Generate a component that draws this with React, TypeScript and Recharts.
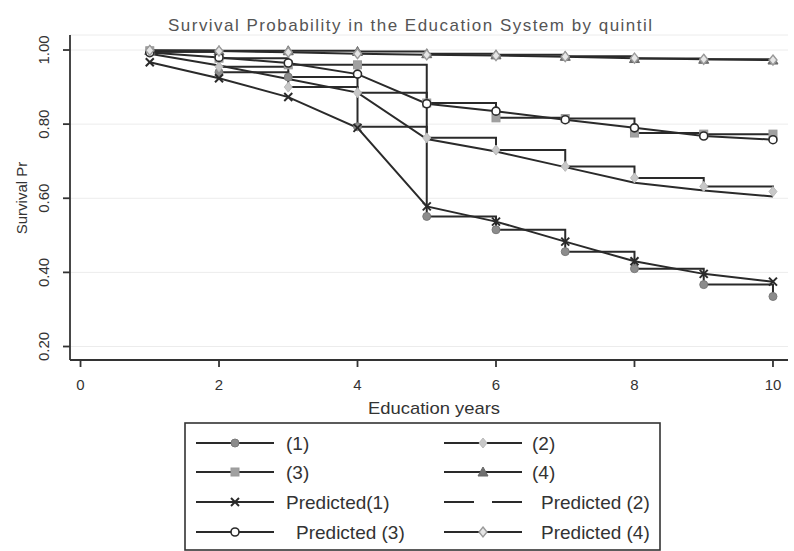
import React from 'react';
import { LineChart, Line, XAxis, YAxis, CartesianGrid } from 'recharts';

// ---------- data ----------
const years = [1, 2, 3, 4, 5, 6, 7, 8, 9, 10];
const obs1 = [0.995, 0.94, 0.927, 0.793, 0.551, 0.515, 0.456, 0.41, 0.367, 0.335];
const obs2 = [0.995, 0.955, 0.9, 0.885, 0.763, 0.73, 0.686, 0.655, 0.632, 0.618];
const obs3 = [0.998, 0.978, 0.96, 0.96, 0.857, 0.817, 0.815, 0.776, 0.773, 0.773];
const obs4 = [0.999, 0.998, 0.998, 0.996, 0.99, 0.987, 0.983, 0.977, 0.975, 0.973];
const pred1 = [0.967, 0.924, 0.873, 0.79, 0.578, 0.537, 0.483, 0.43, 0.396, 0.375];
const pred2 = [0.99, 0.958, 0.922, 0.885, 0.76, 0.726, 0.684, 0.642, 0.621, 0.605];
const pred3 = [0.993, 0.98, 0.965, 0.935, 0.855, 0.835, 0.812, 0.79, 0.768, 0.758];
const pred4 = [0.999, 0.997, 0.994, 0.99, 0.987, 0.985, 0.982, 0.978, 0.975, 0.973];

const xTicks = [0, 2, 4, 6, 8, 10];
const yTicks = [0.2, 0.4, 0.6, 0.8, 1.0];

const titleText = 'Survival Probability in the Education System by quintil';
const xTitle = 'Education years';
const yTitle = 'Survival Pr';

const data = years.map((x, i) => ({
  x,
  obs1: obs1[i],
  obs2: obs2[i],
  obs3: obs3[i],
  obs4: obs4[i],
  pred1: pred1[i],
  pred2: pred2[i],
  pred3: pred3[i],
  pred4: pred4[i],
}));

// ---------- style ----------
const FONT = '"Liberation Sans", Arial, Helvetica, sans-serif';
const LINE = '#2a2a2a';
const TEXT = '#333333';

type Shape = 'circle' | 'diamond' | 'square' | 'triangle' | 'x' | 'ocircle' | 'odiamond' | 'none';

const renderMarker = (shape: Shape, cx: number, cy: number, key?: any) => {
  switch (shape) {
    case 'circle':
      return <circle key={key} cx={cx} cy={cy} r={4} fill="#8c8c8c" stroke="#7a7a7a" strokeWidth={1} />;
    case 'diamond':
      return (
        <polygon key={key} points={`${cx},${cy - 5} ${cx + 4},${cy} ${cx},${cy + 5} ${cx - 4},${cy}`} fill="#c8c8c8" stroke="#bbbbbb" strokeWidth={1} />
      );
    case 'square':
      return <rect key={key} x={cx - 4} y={cy - 4} width={8} height={8} fill="#a0a0a0" stroke="#999" strokeWidth={1} />;
    case 'triangle':
      return <polygon key={key} points={`${cx},${cy - 5} ${cx + 5},${cy + 4} ${cx - 5},${cy + 4}`} fill="#707070" stroke="#666" strokeWidth={1} />;
    case 'x':
      return (
        <g key={key}>
          <line x1={cx - 4} y1={cy - 4} x2={cx + 4} y2={cy + 4} stroke={LINE} strokeWidth={2} />
          <line x1={cx - 4} y1={cy + 4} x2={cx + 4} y2={cy - 4} stroke={LINE} strokeWidth={2} />
        </g>
      );
    case 'ocircle':
      return <circle key={key} cx={cx} cy={cy} r={4} fill="#ffffff" stroke={LINE} strokeWidth={1.6} />;
    case 'odiamond':
      return (
        <polygon key={key} points={`${cx},${cy - 5} ${cx + 4},${cy} ${cx},${cy + 5} ${cx - 4},${cy}`} fill="#e6e6e6" stroke="#9a9a9a" strokeWidth={1.4} />
      );
    default:
      return <g key={key} />;
  }
};

const seriesDefs: { key: string; name: string; kind: 'stepAfter' | 'linear'; shape: Shape }[] = [
  { key: 'obs1', name: '(1)', kind: 'stepAfter', shape: 'circle' },
  { key: 'obs2', name: '(2)', kind: 'stepAfter', shape: 'diamond' },
  { key: 'obs3', name: '(3)', kind: 'stepAfter', shape: 'square' },
  { key: 'obs4', name: '(4)', kind: 'stepAfter', shape: 'triangle' },
  { key: 'pred1', name: 'Predicted(1)', kind: 'linear', shape: 'x' },
  { key: 'pred2', name: 'Predicted (2)', kind: 'linear', shape: 'none' },
  { key: 'pred3', name: ' Predicted (3)', kind: 'linear', shape: 'ocircle' },
  { key: 'pred4', name: 'Predicted (4)', kind: 'linear', shape: 'odiamond' },
];

const XTick = (props: any) => {
  const { x, payload } = props;
  return (
    <text x={x} y={390} textAnchor="middle" fontSize={15} fill={TEXT} fontFamily={FONT}>
      {String(payload.value)}
    </text>
  );
};

const YTick = (props: any) => {
  const { y, payload } = props;
  return (
    <text
      x={49}
      y={y}
      transform={`rotate(-90, 49, ${y})`}
      textAnchor="middle"
      fontSize={15}
      fill={TEXT}
      fontFamily={FONT}
    >
      {Number(payload.value).toFixed(2)}
    </text>
  );
};

const Legend8 = () => {
  const colX = [0, 248];
  const rowY = [20, 49, 79, 109];
  const textOffset: Record<string, number> = {
    obs1: 102, obs3: 102, pred1: 102, pred3: 112,
    obs2: 100, obs4: 100, pred2: 109, pred4: 109,
  };
  return (
    <svg width={477} height={129} style={{ position: 'absolute', left: 184, top: 422 }}>
      <rect x={1} y={1} width={475} height={127} fill="#ffffff" stroke="#333" strokeWidth={1.6} />
      {seriesDefs.map((s, i) => {
        const c = i % 2;
        const r = Math.floor(i / 2);
        const x0 = 12 + colX[c];
        const y0 = rowY[r] + 1;
        const mid = x0 + 39;
        return (
          <g key={s.key}>
            {s.shape === 'none' ? (
              <>
                <line x1={x0} y1={y0} x2={mid - 9} y2={y0} stroke={LINE} strokeWidth={2} />
                <line x1={mid + 9} y1={y0} x2={x0 + 78} y2={y0} stroke={LINE} strokeWidth={2} />
              </>
            ) : (
              <line x1={x0} y1={y0} x2={x0 + 78} y2={y0} stroke={LINE} strokeWidth={2} />
            )}
            {renderMarker(s.shape, mid, y0)}
            <text
              x={colX[c] + textOffset[s.key]}
              y={y0 + 7}
              fontSize={19}
              fill={TEXT}
              fontFamily={FONT}
            >
              {s.name.trim()}
            </text>
          </g>
        );
      })}
    </svg>
  );
};

export default function App() {
  return (
    <div style={{ position: 'absolute', left: 0, top: 0, width: 794, height: 551, background: '#fff', fontFamily: FONT }}>
      <LineChart
        width={794}
        height={551}
        data={data}
        margin={{ top: 35, right: 6, bottom: 161, left: 0 }}
      >
        <CartesianGrid horizontal={true} vertical={false} stroke="#ececec" strokeWidth={1} />
        <XAxis
          dataKey="x"
          type="number"
          domain={[-0.152, 10.217]}
          ticks={xTicks}
          allowDataOverflow
          height={30}
          tickSize={7}
          stroke="#333"
          strokeWidth={1.8}
          tick={<XTick />}
          interval={0}
        />
        <YAxis
          type="number"
          domain={[0.1636, 1.0405]}
          ticks={yTicks}
          allowDataOverflow
          width={70}
          tickSize={7}
          stroke="#333"
          strokeWidth={1.8}
          tick={<YTick />}
          interval={0}
        />
        {seriesDefs.map((s) => (
          <Line
            key={s.key}
            dataKey={s.key}
            name={s.name}
            type={s.kind}
            stroke={LINE}
            strokeWidth={2}
            isAnimationActive={false}
            dot={(p: any) => renderMarker(s.shape, p.cx, p.cy, `${s.key}-${p.index}`)}
            activeDot={false}
          />
        ))}
      </LineChart>
      <svg width={794} height={551} style={{ position: 'absolute', left: 0, top: 0, pointerEvents: 'none' }}>
        <text x={410} y={31} textAnchor="middle" fontSize={17} fill="#555" fontFamily={FONT} textLength={484} lengthAdjust="spacing">
          {titleText}
        </text>
        <text x={434} y={414} textAnchor="middle" fontSize={17} fill={TEXT} fontFamily={FONT} textLength={132} lengthAdjust="spacingAndGlyphs">
          {xTitle}
        </text>
        <text
          x={27}
          y={198}
          transform="rotate(-90, 27, 198)"
          textAnchor="middle"
          fontSize={15}
          fill={TEXT}
          fontFamily={FONT}
        >
          {yTitle}
        </text>
      </svg>
      <Legend8 />
    </div>
  );
}
